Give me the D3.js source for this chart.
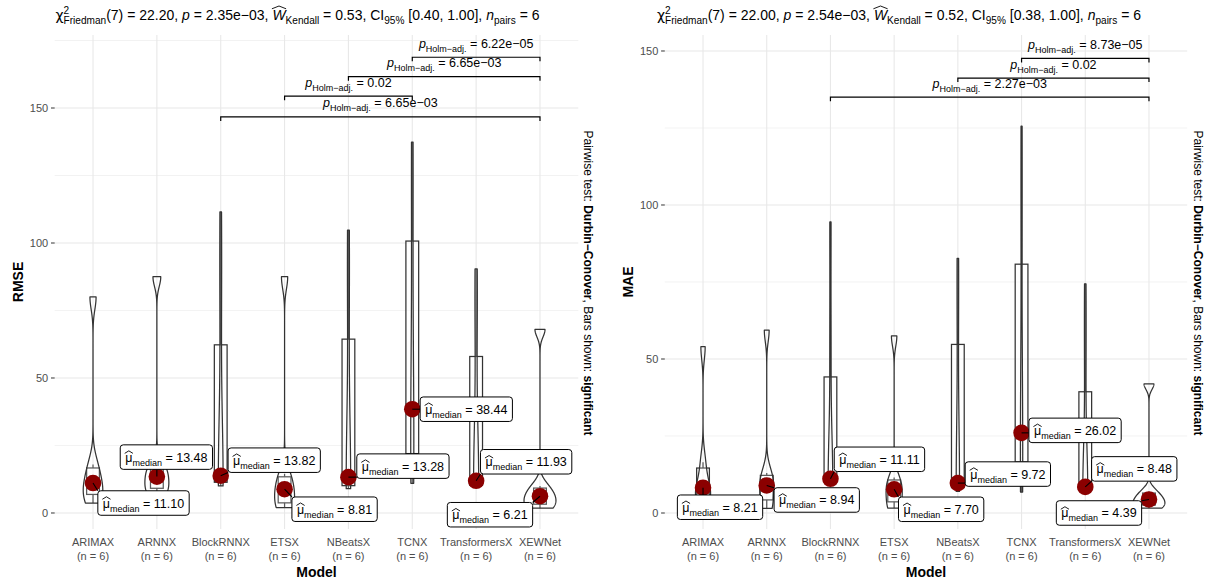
<!DOCTYPE html>
<html>
<head>
<meta charset="utf-8">
<script src="https://cdn.jsdelivr.net/npm/d3@7"></script>
<style>
  body { margin: 0; background: #fff; }
  svg { font-family: "Liberation Sans", Arial, sans-serif; }
  svg text { white-space: pre; }
</style>
</head>
<body>
<div id="chart"></div>
<script>
// --------------------------------------
//  Data
// --------------------------------------

const models = ["ARIMAX", "ARNNX", "BlockRNNX", "ETSX", "NBeatsX", "TCNX", "TransformersX", "XEWNet"];

const rmseValues = [
  [3.7, 6.0, 9.5, 12.7, 18.0, 80],
  [7.5, 8.2, 12.0, 14.96, 17.5, 87.5],
  [10, 11, 12.5, 15.14, 78, 111.5],
  [2.0, 2.5, 7.5, 10.12, 14.5, 87.5],
  [9.0, 9.5, 12.0, 14.56, 81, 104.8],
  [11, 18, 34, 42.88, 120, 137.4],
  [9.5, 10, 11, 12.86, 73, 90.4],
  [1.8, 2.5, 5.5, 6.92, 10, 68]
];

const maeValues = [
  [3, 5, 7.5, 8.92, 16.5, 54],
  [1.5, 3, 8, 9.88, 13, 59.4],
  [9, 10, 10.5, 11.72, 55, 94.5],
  [1.6, 2.5, 7, 8.4, 11.5, 57.5],
  [7, 8, 9, 10.44, 69.5, 82.7],
  [6.8, 14, 24.4, 27.64, 98.5, 125.6],
  [6.5, 7.5, 8, 8.96, 49.5, 74.4],
  [1.6, 2.2, 3.8, 4.98, 7, 41.9]
];

const rmseStats = { df: 7, chi: "22.20", p: "2.35e\u221203", w: "0.53", ci: "[0.40, 1.00]", n: 6 };
const maeStats = { df: 7, chi: "22.00", p: "2.54e\u221203", w: "0.52", ci: "[0.38, 1.00]", n: 6 };

// significant pairwise comparisons, with the bracket level (data units)
const rmsePairs = [
  { a: "BlockRNNX", b: "XEWNet", p: "6.65e\u221203", level: 146.7 },
  { a: "ETSX", b: "TCNX", p: "0.02", level: 154.4 },
  { a: "NBeatsX", b: "XEWNet", p: "6.65e\u221203", level: 161.6 },
  { a: "TCNX", b: "XEWNet", p: "6.22e\u221205", level: 168.8 }
];
const maePairs = [
  { a: "BlockRNNX", b: "XEWNet", p: "2.27e\u221203", level: 135.0 },
  { a: "NBeatsX", b: "XEWNet", p: "0.02", level: 141.2 },
  { a: "TCNX", b: "XEWNet", p: "8.73e\u221205", level: 147.6 }
];

const yTicks = [0, 50, 100, 150];
const yMinor = [25, 75, 125, 175];

// label nudges (px, label centre relative to the median point)
const rmseNudge = [[50.5, 20], [9.5, -19.5], [53.5, -15.5], [50, 20], [54.5, -11], [54, 0], [50, -19], [-50, 18.5]];
const maeNudge = [[17, 19.5], [50, 14.5], [49, -19.5], [47, 20], [50, -9], [53.5, -2.5], [49, -18], [-50, 13.5]];

// --------------------------------------
//  Canvas
// --------------------------------------

const width = 1212, height = 583;
const panelTop = 35, panelBottom = 529;
const lw = 1.25;

const svg = d3.select("#chart").append("svg")
  .attr("width", width).attr("height", height)
  .attr("viewBox", [0, 0, width, height]);

const panels = [
  { values: rmseValues, stats: rmseStats, pairs: rmsePairs, nudge: rmseNudge, ylab: "RMSE",
    left: 54.7, right: 578.3, domain: [-5.93, 177.04], titleX: 55.5, capX: 588, ylabX: 23 },
  { values: maeValues, stats: maeStats, pairs: maePairs, nudge: maeNudge, ylab: "MAE",
    left: 664.8, right: 1187.2, domain: [-5.19, 155.19], titleX: 657, capX: 1198, ylabX: 633 }
];

// --------------------------------------
//  Helpers
// --------------------------------------

// plotmath-like text: segments laid out left to right
function rich(g, segs, fs) {
  let x = 0;
  segs.forEach(s => {
    const small = s.sub || s.sup;
    const size = small ? fs * 0.72 : fs;
    const dy = s.sub ? fs * 0.32 : s.sup ? -fs * 0.45 : 0;
    const t = g.append("text")
      .attr("x", x).attr("y", dy)
      .attr("font-size", size)
      .attr("font-style", s.it ? "italic" : null)
      .attr("font-family", s.font || null)
      .attr("fill", "#000")
      .text(s.t);
    const w = t.node().getComputedTextLength();
    if (s.hat) {
      const b = s.cap ? -fs * 0.8 : -fs * 0.66;
      const a = s.cap ? -fs * 1.0 : -fs * 0.86;
      g.append("path")
        .attr("d", `M${x - 0.5},${b}L${x + w / 2},${a}L${x + w + 0.5},${b}`)
        .attr("fill", "none").attr("stroke", "#000").attr("stroke-width", 0.9);
    }
    if (!s.noAdv) x += w;
  });
  return x;
}

function bwNrd0(v) {
  const s = v.slice().sort(d3.ascending);
  const iqr = d3.quantileSorted(s, 0.75) - d3.quantileSorted(s, 0.25);
  const lo = Math.min(d3.deviation(v), iqr / 1.34);
  return 0.9 * lo * Math.pow(v.length, -0.2);
}

function density(v) {
  const bw = bwNrd0(v);
  const lo = d3.min(v), hi = d3.max(v);
  return d3.range(512).map(i => {
    const y = lo + (hi - lo) * i / 511;
    const d = d3.sum(v, xi => Math.exp(-0.5 * ((y - xi) / bw) ** 2)) / (v.length * bw * Math.sqrt(2 * Math.PI));
    return { y, d };
  });
}

function boxStats(v) {
  const s = v.slice().sort(d3.ascending);
  const q1 = d3.quantileSorted(s, 0.25), med = d3.quantileSorted(s, 0.5), q3 = d3.quantileSorted(s, 0.75);
  const iqr = q3 - q1;
  return {
    q1, med, q3,
    lo: d3.min(s.filter(d => d >= q1 - 1.5 * iqr)),
    hi: d3.max(s.filter(d => d <= q3 + 1.5 * iqr))
  };
}

// --------------------------------------
//  Panels
// --------------------------------------

panels.forEach(P => {
  const g = svg.append("g");
  const x = d3.scalePoint(models, [P.left, P.right]).padding(0.6);
  const y = d3.scaleLinear(P.domain, [panelBottom, panelTop]);
  const step = x.step();

  // grid
  g.selectAll("line.minor").data(yMinor.filter(t => t < P.domain[1])).join("line")
    .attr("x1", P.left).attr("x2", P.right)
    .attr("y1", d => y(d)).attr("y2", d => y(d))
    .attr("stroke", "#ececec").attr("stroke-width", 0.7);
  g.selectAll("line.major").data(yTicks).join("line")
    .attr("x1", P.left).attr("x2", P.right)
    .attr("y1", d => y(d)).attr("y2", d => y(d))
    .attr("stroke", "#e8e8e8").attr("stroke-width", 1.1);
  g.selectAll("line.vgrid").data(models).join("line")
    .attr("x1", d => x(d)).attr("x2", d => x(d))
    .attr("y1", panelTop).attr("y2", panelBottom)
    .attr("stroke", "#e8e8e8").attr("stroke-width", 1.1);

  // y axis
  const ya = g.append("g");
  ya.selectAll("text").data(yTicks).join("text")
    .attr("x", P.left - 6.5).attr("y", d => y(d) + 3.8)
    .attr("text-anchor", "end").attr("font-size", 11).attr("fill", "#4d4d4d")
    .text(d => d);
  ya.selectAll("line").data(yTicks).join("line")
    .attr("x1", P.left - 3.7).attr("x2", P.left)
    .attr("y1", d => y(d)).attr("y2", d => y(d))
    .attr("stroke", "#333").attr("stroke-width", 1);

  // x axis
  g.selectAll("text.xname").data(models).join("text")
    .attr("class", "xname")
    .attr("x", d => x(d)).attr("y", 546)
    .attr("text-anchor", "middle").attr("font-size", 11).attr("fill", "#4d4d4d")
    .text(d => d);
  g.selectAll("text.xn").data(P.values).join("text")
    .attr("class", "xn")
    .attr("x", (d, i) => x(models[i])).attr("y", 560)
    .attr("text-anchor", "middle").attr("font-size", 11).attr("fill", "#4d4d4d")
    .text(d => `(n = ${d.length})`);

  g.append("text")
    .attr("x", (P.left + P.right) / 2).attr("y", 577)
    .attr("text-anchor", "middle").attr("font-size", 14).attr("font-weight", "bold")
    .text("Model");

  g.append("text")
    .attr("transform", `translate(${P.ylabX},${(panelTop + panelBottom) / 2}) rotate(-90)`)
    .attr("text-anchor", "middle").attr("font-size", 14).attr("font-weight", "bold")
    .text(P.ylab);

  // caption
  const cap = g.append("text")
    .attr("transform", `translate(${P.capX},${(panelTop + panelBottom) / 2 + 1}) rotate(90)`)
    .attr("text-anchor", "middle").attr("font-size", 12).attr("dy", "0.35em");
  cap.append("tspan").text("Pairwise test: ");
  cap.append("tspan").attr("font-weight", "bold").text("Durbin\u2212Conover");
  cap.append("tspan").text(", Bars shown: ");
  cap.append("tspan").attr("font-weight", "bold").text("significant");

  // boxplots
  const boxes = P.values.map(boxStats);
  const bw = 0.2 * step;
  const bx = g.append("g");
  boxes.forEach((b, i) => {
    const cx = x(models[i]);
    bx.append("line").attr("x1", cx).attr("x2", cx).attr("y1", y(b.q3)).attr("y2", y(b.hi))
      .attr("stroke", "#333").attr("stroke-width", lw);
    bx.append("line").attr("x1", cx).attr("x2", cx).attr("y1", y(b.q1)).attr("y2", y(b.lo))
      .attr("stroke", "#333").attr("stroke-width", lw);
    bx.append("rect")
      .attr("x", cx - bw / 2).attr("width", bw)
      .attr("y", y(b.q3)).attr("height", y(b.q1) - y(b.q3))
      .attr("fill", "rgba(255,255,255,0.5)").attr("stroke", "#333").attr("stroke-width", lw);
    bx.append("line").attr("x1", cx - bw / 2).attr("x2", cx + bw / 2).attr("y1", y(b.med)).attr("y2", y(b.med))
      .attr("stroke", "#333").attr("stroke-width", 2);
  });

  // violins (scale = "area", width 0.5)
  const dens = P.values.map(density);
  const dmax = d3.max(dens, d => d3.max(d, e => e.d));
  const half = 0.25 * step;
  const line = d3.line().x(d => d[0]).y(d => d[1]);
  dens.forEach((dd, i) => {
    const cx = x(models[i]);
    const pts = dd.map(e => [cx - half * e.d / dmax, y(e.y)])
      .concat(dd.slice().reverse().map(e => [cx + half * e.d / dmax, y(e.y)]));
    g.append("path")
      .attr("d", line(pts) + "Z")
      .attr("fill", "rgba(255,255,255,0.2)").attr("stroke", "#333").attr("stroke-width", lw)
      .attr("stroke-linejoin", "round");
  });

  // brackets
  const br = g.append("g");
  P.pairs.forEach(c => {
    const x1 = x(c.a), x2 = x(c.b), yy = y(c.level);
    br.append("path")
      .attr("d", `M${x1},${yy + 4}V${yy}H${x2}V${yy + 4}`)
      .attr("fill", "none").attr("stroke", "#000").attr("stroke-width", 1.2);
    const lg = br.append("g");
    const w = rich(lg, [{ t: "p", it: true }, { t: "Holm\u2212adj.", sub: true }, { t: ` = ${c.p}` }], 12.5);
    lg.attr("transform", `translate(${(x1 + x2) / 2 - w / 2},${yy - 9.5})`);
  });

  // centrality points and labels
  const pts = g.append("g");
  boxes.forEach((b, i) => {
    const px = x(models[i]), py = y(b.med);
    pts.append("circle").attr("cx", px).attr("cy", py).attr("r", 8.3).attr("fill", "#8b0000");
  });
  boxes.forEach((b, i) => {
    const px = x(models[i]), py = y(b.med);
    const lg = g.append("g");
    const inner = lg.append("g");
    const w = rich(inner, [
      { t: "\u03bc", hat: true }, { t: "median", sub: true }, { t: ` = ${d3.format(".2f")(b.med)}` }
    ], 12.5);
    const rw = w + 10, rh = 24.5;
    const cx = px + P.nudge[i][0], cy = py + P.nudge[i][1];
    const rx0 = cx - rw / 2, ry0 = cy - rh / 2;
    // segment to nearest point of the label box
    const nx = Math.max(rx0, Math.min(px, rx0 + rw)), ny = Math.max(ry0, Math.min(py, ry0 + rh));
    if (Math.hypot(nx - px, ny - py) > 7) {
      lg.insert("line", ":first-child")
        .attr("x1", px).attr("y1", py).attr("x2", nx).attr("y2", ny)
        .attr("stroke", "#000").attr("stroke-width", 1.1);
    }
    inner.insert("rect", ":first-child")
      .attr("x", -5).attr("y", -rh / 2 - 4.5).attr("width", rw).attr("height", rh).attr("rx", 3)
      .attr("fill", "#fff").attr("stroke", "#000").attr("stroke-width", 1);
    inner.attr("transform", `translate(${rx0 + 5},${cy + 4.5})`);
  });

  // subtitle with test statistics
  const s = P.stats;
  const tg = svg.append("g");
  rich(tg, [
    { t: "\u03c7", font: "DejaVu Sans" }, { t: "2", sup: true, noAdv: true }, { t: "Friedman", sub: true },
    { t: `(${s.df}) = ${s.chi}, ` }, { t: "p", it: true }, { t: ` = ${s.p}, ` },
    { t: "W", it: true, hat: true, cap: true }, { t: "Kendall", sub: true }, { t: ` = ${s.w}, CI` },
    { t: "95%", sub: true }, { t: ` ${s.ci}, ` }, { t: "n", it: true }, { t: "pairs", sub: true },
    { t: ` = ${s.n}` }
  ], 14);
  tg.attr("transform", `translate(${P.titleX},20)`);
});
</script>
</body>
</html>
